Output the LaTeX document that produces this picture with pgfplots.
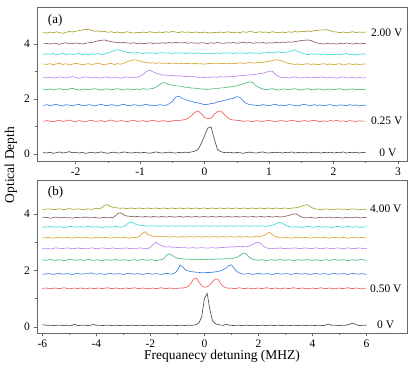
\documentclass[border=0pt]{standalone}
\usepackage{fontspec}
\setmainfont{Liberation Serif}
\usepackage{pgfplots}
\usepackage{pgfplotstable}
\pgfplotsset{compat=1.18}

\definecolor{tk}{HTML}{4D4D4D}
\definecolor{tr}{HTML}{F25C5C}
\definecolor{tb}{HTML}{3E7FE6}
\definecolor{tg}{HTML}{4FB878}
\definecolor{tp}{HTML}{B987EA}
\definecolor{to}{HTML}{D9A32E}
\definecolor{tc}{HTML}{3AD9D9}
\definecolor{tw}{HTML}{8C5F5F}
\definecolor{ty}{HTML}{A8A12A}
\definecolor{frame}{HTML}{666666}

% panel (a): 0 V ... 2.00 V in steps of 0.25 V
\pgfplotstableread{
x a0 a1 a2 a3 a4 a5 a6 a7 a8
-2.50 0.06 1.19 1.77 2.36 2.79 3.28 3.62 4.01 4.43
-2.45 0.04 1.22 1.80 2.34 2.77 3.26 3.65 4.03 4.40
-2.40 0.07 1.20 1.76 2.37 2.80 3.29 3.63 4.00 4.44
-2.35 0.03 1.18 1.79 2.33 2.76 3.25 3.66 4.04 4.41
-2.30 0.05 1.21 1.81 2.36 2.78 3.28 3.61 4.02 4.45
-2.25 0.08 1.23 1.77 2.38 2.81 3.30 3.64 3.99 4.42
-2.20 0.04 1.19 1.75 2.35 2.79 3.26 3.67 4.03 4.39
-2.15 0.06 1.21 1.80 2.34 2.77 3.29 3.62 4.05 4.43
-2.10 0.09 1.24 1.78 2.37 2.80 3.24 3.65 4.01 4.46
-2.05 0.05 1.20 1.76 2.39 2.82 3.27 3.63 4.02 4.44
-2.00 0.07 1.18 1.79 2.36 2.79 3.30 3.64 4.04 4.47
-1.95 0.04 1.22 1.81 2.33 2.76 3.28 3.66 4.03 4.49
-1.90 0.06 1.20 1.77 2.35 2.78 3.25 3.62 4.00 4.51
-1.85 0.03 1.17 1.76 2.37 2.81 3.27 3.64 4.03 4.54
-1.80 0.05 1.21 1.80 2.34 2.79 3.29 3.61 4.05 4.53
-1.75 0.07 1.23 1.78 2.36 2.77 3.26 3.65 4.06 4.50
-1.70 0.04 1.19 1.75 2.38 2.80 3.28 3.63 4.09 4.47
-1.65 0.06 1.20 1.79 2.35 2.78 3.31 3.66 4.12 4.48
-1.60 0.08 1.22 1.81 2.33 2.76 3.27 3.62 4.14 4.45
-1.55 0.05 1.18 1.77 2.36 2.81 3.25 3.64 4.15 4.46
-1.50 0.03 1.21 1.76 2.37 2.79 3.28 3.68 4.12 4.43
-1.45 0.06 1.24 1.80 2.34 2.77 3.30 3.72 4.09 4.45
-1.40 0.07 1.20 1.78 2.36 2.80 3.26 3.77 4.07 4.42
-1.35 0.04 1.19 1.75 2.38 2.78 3.29 3.80 4.06 4.44
-1.30 0.05 1.22 1.79 2.35 2.76 3.27 3.76 4.05 4.41
-1.25 0.08 1.20 1.81 2.33 2.79 3.31 3.74 4.06 4.43
-1.20 0.06 1.18 1.77 2.37 2.81 3.36 3.70 4.04 4.45
-1.15 0.04 1.21 1.76 2.36 2.78 3.40 3.69 4.03 4.42
-1.10 0.05 1.23 1.80 2.34 2.80 3.43 3.67 4.05 4.40
-1.05 0.07 1.19 1.78 2.37 2.79 3.42 3.69 4.02 4.43
-1.00 0.04 1.20 1.75 2.35 2.83 3.38 3.68 4.04 4.41
-0.95 0.06 1.22 1.79 2.38 2.91 3.35 3.66 4.01 4.44
-0.90 0.05 1.18 1.81 2.36 3.01 3.33 3.69 4.03 4.42
-0.85 0.03 1.21 1.77 2.37 3.05 3.31 3.67 4.05 4.45
-0.80 0.06 1.23 1.78 2.39 2.99 3.32 3.68 4.02 4.43
-0.75 0.08 1.20 1.76 2.44 2.94 3.30 3.66 4.04 4.41
-0.70 0.05 1.19 1.80 2.52 2.91 3.32 3.68 4.03 4.44
-0.65 0.04 1.22 1.78 2.60 2.87 3.30 3.69 4.05 4.42
-0.60 0.06 1.20 1.77 2.59 2.88 3.31 3.67 4.03 4.45
-0.55 0.07 1.18 1.83 2.52 2.85 3.29 3.68 4.06 4.43
-0.50 0.05 1.21 1.92 2.51 2.86 3.31 3.66 4.04 4.46
-0.45 0.04 1.23 2.07 2.48 2.84 3.30 3.69 4.06 4.44
-0.40 0.06 1.21 2.11 2.48 2.85 3.28 3.67 4.05 4.42
-0.35 0.05 1.24 2.03 2.46 2.83 3.31 3.68 4.04 4.45
-0.30 0.07 1.26 1.99 2.43 2.82 3.29 3.66 4.06 4.43
-0.25 0.06 1.31 1.94 2.43 2.83 3.30 3.68 4.03 4.44
-0.20 0.08 1.41 1.92 2.40 2.81 3.28 3.67 4.05 4.42
-0.15 0.11 1.52 1.88 2.40 2.82 3.30 3.66 4.04 4.44
-0.10 0.17 1.57 1.86 2.38 2.79 3.28 3.68 4.03 4.43
-0.05 0.40 1.47 1.83 2.37 2.80 3.29 3.66 4.05 4.41
0.00 0.67 1.33 1.80 2.37 2.78 3.27 3.67 4.04 4.44
0.05 0.95 1.29 1.81 2.35 2.80 3.29 3.65 4.02 4.42
0.10 0.99 1.31 1.84 2.37 2.79 3.30 3.67 4.05 4.40
0.15 0.55 1.45 1.85 2.38 2.81 3.28 3.66 4.03 4.43
0.20 0.17 1.55 1.90 2.38 2.79 3.31 3.68 4.06 4.41
0.25 0.09 1.57 1.92 2.41 2.82 3.29 3.66 4.04 4.44
0.30 0.06 1.46 1.95 2.41 2.80 3.30 3.69 4.03 4.42
0.35 0.05 1.33 1.98 2.44 2.81 3.28 3.67 4.05 4.45
0.40 0.07 1.26 2.01 2.44 2.83 3.31 3.68 4.04 4.43
0.45 0.04 1.24 2.03 2.47 2.82 3.29 3.66 4.06 4.41
0.50 0.06 1.23 2.09 2.48 2.84 3.30 3.69 4.03 4.44
0.55 0.05 1.22 2.06 2.52 2.85 3.32 3.67 4.05 4.42
0.60 0.03 1.19 1.93 2.55 2.86 3.30 3.68 4.07 4.45
0.65 0.06 1.21 1.84 2.59 2.87 3.31 3.66 4.04 4.43
0.70 0.07 1.20 1.80 2.63 2.88 3.33 3.69 4.06 4.46
0.75 0.05 1.18 1.79 2.60 2.89 3.31 3.67 4.03 4.44
0.80 0.04 1.22 1.77 2.48 2.90 3.32 3.68 4.05 4.42
0.85 0.06 1.20 1.76 2.42 2.93 3.34 3.66 4.04 4.45
0.90 0.08 1.19 1.80 2.37 2.94 3.33 3.69 4.06 4.43
0.95 0.05 1.21 1.78 2.34 2.97 3.36 3.68 4.03 4.44
1.00 0.04 1.23 1.76 2.36 3.01 3.37 3.70 4.05 4.42
1.05 0.06 1.20 1.79 2.38 3.02 3.40 3.68 4.04 4.45
1.10 0.05 1.18 1.81 2.35 2.90 3.43 3.70 4.06 4.43
1.15 0.07 1.21 1.77 2.33 2.82 3.42 3.72 4.05 4.41
1.20 0.04 1.22 1.78 2.36 2.78 3.39 3.69 4.07 4.44
1.25 0.06 1.19 1.76 2.37 2.80 3.34 3.71 4.06 4.42
1.30 0.05 1.20 1.80 2.34 2.77 3.30 3.72 4.08 4.45
1.35 0.08 1.23 1.79 2.36 2.79 3.28 3.76 4.07 4.43
1.40 0.04 1.21 1.77 2.38 2.81 3.26 3.79 4.09 4.46
1.45 0.06 1.18 1.75 2.35 2.78 3.28 3.73 4.11 4.44
1.50 0.05 1.20 1.79 2.33 2.76 3.25 3.68 4.13 4.47
1.55 0.07 1.22 1.81 2.36 2.80 3.27 3.65 4.14 4.45
1.60 0.04 1.19 1.78 2.38 2.79 3.29 3.62 4.15 4.48
1.65 0.06 1.21 1.76 2.35 2.77 3.26 3.64 4.13 4.46
1.70 0.05 1.23 1.80 2.34 2.80 3.28 3.63 4.08 4.49
1.75 0.07 1.20 1.77 2.37 2.78 3.25 3.65 4.04 4.50
1.80 0.04 1.18 1.79 2.36 2.81 3.27 3.62 4.02 4.51
1.85 0.06 1.21 1.76 2.33 2.79 3.29 3.64 4.00 4.52
1.90 0.05 1.19 1.78 2.35 2.77 3.26 3.61 4.03 4.52
1.95 0.07 1.22 1.80 2.37 2.80 3.28 3.63 4.01 4.49
2.00 0.04 1.20 1.77 2.34 2.78 3.25 3.62 4.02 4.45
2.05 0.06 1.23 1.75 2.36 2.76 3.27 3.64 4.00 4.44
2.10 0.05 1.19 1.79 2.38 2.79 3.29 3.61 4.03 4.42
2.15 0.08 1.21 1.78 2.35 2.81 3.24 3.63 4.01 4.44
2.20 0.04 1.18 1.76 2.33 2.77 3.27 3.66 4.04 4.41
2.25 0.06 1.22 1.80 2.36 2.78 3.29 3.62 4.02 4.43
2.30 0.05 1.20 1.77 2.37 2.80 3.25 3.64 4.00 4.45
2.35 0.07 1.19 1.79 2.34 2.76 3.28 3.61 4.03 4.42
2.40 0.04 1.21 1.75 2.36 2.79 3.26 3.63 4.01 4.44
2.45 0.06 1.20 1.78 2.35 2.77 3.27 3.65 4.02 4.43
2.50 0.05 1.20 1.77 2.34 2.78 3.28 3.63 4.02 4.44
}\toptab

% panel (b): 0 V ... 4.00 V in steps of 0.50 V
\pgfplotstableread{
x b0 b1 b2 b3 b4 b5 b6 b7 b8
-6.0 0.08 1.36 1.88 2.38 2.77 3.16 3.55 3.86 4.17
-5.9 0.07 1.38 1.87 2.36 2.79 3.15 3.53 3.88 4.16
-5.8 0.06 1.37 1.89 2.37 2.78 3.17 3.54 3.87 4.18
-5.7 0.07 1.35 1.88 2.39 2.76 3.16 3.56 3.85 4.17
-5.6 0.05 1.37 1.86 2.37 2.78 3.14 3.54 3.87 4.15
-5.5 0.06 1.38 1.88 2.36 2.80 3.16 3.53 3.89 4.16
-5.4 0.07 1.36 1.90 2.38 2.79 3.18 3.55 3.86 4.18
-5.3 0.06 1.37 1.88 2.37 2.77 3.16 3.54 3.87 4.17
-5.2 0.05 1.39 1.87 2.35 2.78 3.15 3.52 3.88 4.15
-5.1 0.07 1.37 1.89 2.37 2.80 3.17 3.54 3.86 4.17
-5.0 0.04 1.35 1.88 2.39 2.79 3.16 3.56 3.87 4.19
-4.9 0.06 1.37 1.86 2.38 2.77 3.14 3.55 3.85 4.17
-4.8 0.10 1.38 1.88 2.36 2.78 3.16 3.53 3.87 4.16
-4.7 0.05 1.36 1.90 2.37 2.80 3.18 3.54 3.88 4.18
-4.6 0.06 1.38 1.88 2.38 2.78 3.16 3.55 3.86 4.17
-4.5 0.07 1.37 1.87 2.36 2.77 3.15 3.53 3.87 4.15
-4.4 0.06 1.35 1.89 2.37 2.79 3.17 3.54 3.89 4.17
-4.3 0.05 1.37 1.88 2.39 2.78 3.16 3.56 3.87 4.18
-4.2 0.07 1.38 1.92 2.37 2.80 3.14 3.54 3.86 4.16
-4.1 0.09 1.36 1.88 2.36 2.79 3.16 3.53 3.88 4.18
-4.0 0.06 1.37 1.87 2.38 2.77 3.18 3.55 3.87 4.20
-3.9 0.07 1.38 1.89 2.37 2.78 3.16 3.54 3.85 4.18
-3.8 0.05 1.36 1.88 2.35 2.80 3.15 3.52 3.87 4.22
-3.7 0.06 1.37 1.86 2.37 2.79 3.17 3.54 3.88 4.30
-3.6 0.07 1.39 1.88 2.38 2.77 3.16 3.55 3.86 4.33
-3.5 0.06 1.37 1.90 2.36 2.78 3.14 3.53 3.88 4.27
-3.4 0.05 1.36 1.88 2.37 2.80 3.16 3.54 3.87 4.24
-3.3 0.07 1.38 1.87 2.39 2.78 3.18 3.56 3.93 4.22
-3.2 0.06 1.37 1.89 2.37 2.77 3.16 3.54 4.02 4.21
-3.1 0.05 1.35 1.88 2.36 2.79 3.15 3.53 4.04 4.20
-3.0 0.07 1.37 1.86 2.38 2.78 3.17 3.55 3.97 4.21
-2.9 0.06 1.38 1.88 2.37 2.80 3.16 3.61 3.93 4.19
-2.8 0.05 1.36 1.90 2.35 2.78 3.14 3.69 3.92 4.20
-2.7 0.07 1.37 1.88 2.37 2.77 3.16 3.72 3.91 4.21
-2.6 0.06 1.39 1.87 2.38 2.79 3.18 3.66 3.90 4.19
-2.5 0.05 1.37 1.89 2.36 2.78 3.16 3.62 3.91 4.20
-2.4 0.07 1.36 1.88 2.37 2.80 3.21 3.60 3.90 4.21
-2.3 0.06 1.38 1.86 2.39 2.79 3.31 3.59 3.89 4.19
-2.2 0.05 1.37 1.88 2.37 2.77 3.37 3.58 3.91 4.20
-2.1 0.07 1.35 1.90 2.36 2.78 3.28 3.57 3.90 4.21
-2.0 0.06 1.37 1.88 2.38 2.82 3.24 3.58 3.89 4.19
-1.9 0.05 1.38 1.87 2.37 2.92 3.21 3.57 3.91 4.20
-1.8 0.07 1.36 1.89 2.35 3.00 3.20 3.58 3.90 4.21
-1.7 0.06 1.37 1.88 2.37 2.94 3.19 3.56 3.89 4.19
-1.6 0.05 1.39 1.86 2.38 2.88 3.20 3.57 3.91 4.20
-1.5 0.07 1.37 1.88 2.42 2.85 3.19 3.58 3.90 4.21
-1.4 0.06 1.36 1.90 2.54 2.83 3.20 3.57 3.89 4.19
-1.3 0.05 1.38 1.88 2.59 2.84 3.18 3.56 3.91 4.20
-1.2 0.07 1.37 1.87 2.54 2.82 3.19 3.58 3.90 4.21
-1.1 0.06 1.35 1.91 2.47 2.83 3.20 3.57 3.89 4.19
-1.0 0.05 1.37 2.00 2.44 2.81 3.18 3.56 3.90 4.20
-0.9 0.07 1.38 2.19 2.42 2.82 3.19 3.58 3.91 4.21
-0.8 0.06 1.38 2.12 2.41 2.80 3.20 3.57 3.89 4.19
-0.7 0.05 1.40 2.02 2.40 2.81 3.18 3.56 3.90 4.20
-0.6 0.07 1.44 1.98 2.41 2.79 3.19 3.58 3.91 4.21
-0.5 0.06 1.54 1.96 2.39 2.80 3.20 3.57 3.89 4.19
-0.4 0.07 1.70 1.95 2.40 2.81 3.18 3.56 3.90 4.20
-0.3 0.09 1.73 1.94 2.39 2.79 3.19 3.58 3.91 4.21
-0.2 0.15 1.59 1.93 2.38 2.80 3.20 3.57 3.89 4.19
-0.1 0.37 1.46 1.92 2.39 2.81 3.18 3.56 3.90 4.20
0.0 1.02 1.41 1.92 2.38 2.80 3.19 3.58 3.91 4.21
0.1 1.19 1.42 1.93 2.39 2.79 3.20 3.57 3.89 4.19
0.2 0.62 1.49 1.93 2.40 2.80 3.18 3.56 3.90 4.20
0.3 0.22 1.60 1.94 2.39 2.81 3.19 3.58 3.91 4.21
0.4 0.12 1.70 1.95 2.40 2.79 3.20 3.57 3.89 4.19
0.5 0.09 1.69 1.97 2.41 2.80 3.18 3.56 3.90 4.20
0.6 0.07 1.54 1.99 2.40 2.82 3.19 3.58 3.91 4.21
0.7 0.06 1.43 2.03 2.41 2.81 3.20 3.57 3.89 4.19
0.8 0.10 1.39 2.09 2.42 2.83 3.18 3.56 3.90 4.20
0.9 0.07 1.37 2.17 2.41 2.82 3.19 3.58 3.91 4.21
1.0 0.06 1.38 2.20 2.42 2.84 3.20 3.57 3.89 4.19
1.1 0.05 1.36 2.08 2.44 2.83 3.18 3.56 3.90 4.20
1.2 0.07 1.37 1.96 2.47 2.85 3.19 3.58 3.91 4.21
1.3 0.06 1.39 1.91 2.52 2.84 3.20 3.57 3.89 4.19
1.4 0.05 1.37 1.88 2.59 2.85 3.18 3.56 3.90 4.20
1.5 0.07 1.36 1.87 2.62 2.83 3.19 3.58 3.91 4.21
1.6 0.06 1.38 1.89 2.53 2.85 3.20 3.57 3.89 4.19
1.7 0.05 1.37 1.88 2.43 2.88 3.18 3.56 3.90 4.20
1.8 0.07 1.35 1.86 2.39 2.93 3.19 3.58 3.91 4.21
1.9 0.06 1.37 1.88 2.37 2.98 3.20 3.57 3.89 4.19
2.0 0.05 1.38 1.90 2.36 3.00 3.19 3.56 3.90 4.20
2.1 0.07 1.36 1.88 2.38 2.93 3.21 3.58 3.91 4.21
2.2 0.06 1.37 1.87 2.37 2.85 3.24 3.57 3.89 4.19
2.3 0.05 1.39 1.89 2.35 2.80 3.29 3.56 3.90 4.20
2.4 0.07 1.37 1.88 2.37 2.78 3.35 3.58 3.91 4.21
2.5 0.06 1.36 1.86 2.38 2.77 3.28 3.60 3.89 4.19
2.6 0.05 1.38 1.88 2.36 2.79 3.21 3.63 3.90 4.20
2.7 0.07 1.37 1.90 2.37 2.78 3.18 3.68 3.91 4.21
2.8 0.06 1.35 1.88 2.39 2.80 3.16 3.70 3.89 4.19
2.9 0.05 1.37 1.87 2.37 2.78 3.15 3.66 3.90 4.20
3.0 0.07 1.38 1.89 2.36 2.77 3.17 3.60 3.92 4.21
3.1 0.06 1.36 1.88 2.38 2.79 3.16 3.56 3.94 4.19
3.2 0.05 1.37 1.86 2.37 2.78 3.14 3.54 3.97 4.20
3.3 0.07 1.39 1.88 2.35 2.80 3.16 3.53 4.00 4.21
3.4 0.06 1.37 1.90 2.37 2.79 3.18 3.55 4.00 4.22
3.5 0.05 1.36 1.88 2.38 2.77 3.16 3.54 3.94 4.24
3.6 0.07 1.38 1.87 2.36 2.78 3.15 3.52 3.89 4.27
3.7 0.06 1.37 1.89 2.37 2.80 3.17 3.54 3.87 4.31
3.8 0.05 1.35 1.88 2.39 2.79 3.16 3.56 3.86 4.33
3.9 0.07 1.37 1.86 2.37 2.77 3.14 3.55 3.88 4.27
4.0 0.06 1.38 1.88 2.36 2.78 3.16 3.53 3.87 4.21
4.1 0.05 1.36 1.90 2.38 2.80 3.18 3.54 3.85 4.18
4.2 0.07 1.37 1.88 2.37 2.79 3.16 3.56 3.87 4.17
4.3 0.06 1.39 1.87 2.35 2.77 3.15 3.54 3.88 4.15
4.4 0.05 1.37 1.89 2.37 2.78 3.17 3.53 3.86 4.17
4.5 0.08 1.36 1.88 2.38 2.80 3.16 3.55 3.87 4.18
4.6 0.10 1.38 1.86 2.36 2.79 3.14 3.54 3.89 4.16
4.7 0.06 1.37 1.88 2.37 2.77 3.16 3.52 3.87 4.17
4.8 0.07 1.35 1.90 2.39 2.78 3.18 3.54 3.86 4.15
4.9 0.06 1.37 1.88 2.37 2.80 3.16 3.56 3.88 4.17
5.0 0.05 1.38 1.87 2.36 2.79 3.15 3.55 3.87 4.18
5.1 0.07 1.36 1.89 2.38 2.77 3.17 3.53 3.85 4.16
5.2 0.06 1.37 1.88 2.37 2.78 3.16 3.54 3.87 4.17
5.3 0.08 1.39 1.86 2.35 2.80 3.14 3.56 3.88 4.15
5.4 0.11 1.37 1.88 2.37 2.79 3.16 3.54 3.86 4.17
5.5 0.14 1.36 1.90 2.38 2.77 3.18 3.53 3.87 4.18
5.6 0.09 1.38 1.88 2.36 2.78 3.16 3.55 3.89 4.16
5.7 0.06 1.37 1.87 2.37 2.80 3.15 3.54 3.87 4.17
5.8 0.05 1.35 1.89 2.39 2.79 3.17 3.52 3.86 4.15
5.9 0.07 1.37 1.88 2.37 2.77 3.16 3.54 3.88 4.17
6.0 0.06 1.38 1.86 2.36 2.78 3.14 3.55 3.87 4.16
}\bottab

\pgfplotsset{
  panel/.style={
    scale only axis,
    width=370pt,
    axis line style={frame, line width=0.7pt},
    tick style={frame, line width=0.6pt},
    tick align=outside,
    xtick pos=bottom,
    ytick pos=left,
    major tick length=3.5pt,
    minor tick length=2pt,
    minor x tick num=1,
    minor y tick num=1,
    ytick={0,2,4},
    /pgf/number format/assume math mode=true,
    tick label style={font=\fontsize{11.5}{13}\selectfont},
    every axis plot/.append style={line width=0.65pt, mark=none},
  },
}

\begin{document}
\begin{tikzpicture}
\path[use as bounding box] (-37pt,-41pt) rectangle (378pt,333pt);

% (a)
\begin{axis}[
  panel,
  at={(0,172pt)}, anchor=south west,
  height=154pt,
  xmin=-2.6, xmax=3.14,
  ymin=-0.25, ymax=5.35,
  xtick={-2,-1,0,1,2,3},
]
\addplot[tk] table[x=x,y=a0] {\toptab};
\addplot[tr] table[x=x,y=a1] {\toptab};
\addplot[tb] table[x=x,y=a2] {\toptab};
\addplot[tg] table[x=x,y=a3] {\toptab};
\addplot[tp] table[x=x,y=a4] {\toptab};
\addplot[to] table[x=x,y=a5] {\toptab};
\addplot[tc] table[x=x,y=a6] {\toptab};
\addplot[tw] table[x=x,y=a7] {\toptab};
\addplot[ty] table[x=x,y=a8] {\toptab};
\node[anchor=west, font=\fontsize{13}{15}\selectfont] at (axis description cs:0.02,0.915) {(a)};
\node[anchor=west, inner sep=0pt, font=\fontsize{11.5}{13}\selectfont] at (axis cs:2.58,4.42) {2.00 V};
\node[anchor=west, inner sep=0pt, font=\fontsize{11.5}{13}\selectfont] at (axis cs:2.58,1.20) {0.25 V};
\node[anchor=west, inner sep=0pt, font=\fontsize{11.5}{13}\selectfont] at (axis cs:2.71,0.05) {0 V};
\end{axis}

% (b)
\begin{axis}[
  panel,
  at={(0,0)}, anchor=south west,
  height=153pt,
  xmin=-6.2, xmax=7.5,
  ymin=-0.21, ymax=5.2,
  xtick={-6,-4,-2,0,2,4,6},
]
\addplot[tk] table[x=x,y=b0] {\bottab};
\addplot[tr] table[x=x,y=b1] {\bottab};
\addplot[tb] table[x=x,y=b2] {\bottab};
\addplot[tg] table[x=x,y=b3] {\bottab};
\addplot[tp] table[x=x,y=b4] {\bottab};
\addplot[to] table[x=x,y=b5] {\bottab};
\addplot[tc] table[x=x,y=b6] {\bottab};
\addplot[tw] table[x=x,y=b7] {\bottab};
\addplot[ty] table[x=x,y=b8] {\bottab};
\node[anchor=west, font=\fontsize{13}{15}\selectfont] at (axis description cs:0.02,0.92) {(b)};
\node[anchor=west, inner sep=0pt, font=\fontsize{11.5}{13}\selectfont] at (axis cs:6.13,4.17) {4.00 V};
\node[anchor=west, inner sep=0pt, font=\fontsize{11.5}{13}\selectfont] at (axis cs:6.13,1.37) {0.50 V};
\node[anchor=west, inner sep=0pt, font=\fontsize{11.5}{13}\selectfont] at (axis cs:6.39,0.07) {0 V};
\end{axis}

\node[anchor=base, inner sep=0pt, font=\fontsize{13.5}{16}\selectfont] at (185pt,-27pt) {Frequanecy detuning (MHZ)};
\node[rotate=90, inner sep=0pt, font=\fontsize{13.5}{16}\selectfont] at (-26pt,168pt) {Optical Depth};
\end{tikzpicture}
\end{document}
